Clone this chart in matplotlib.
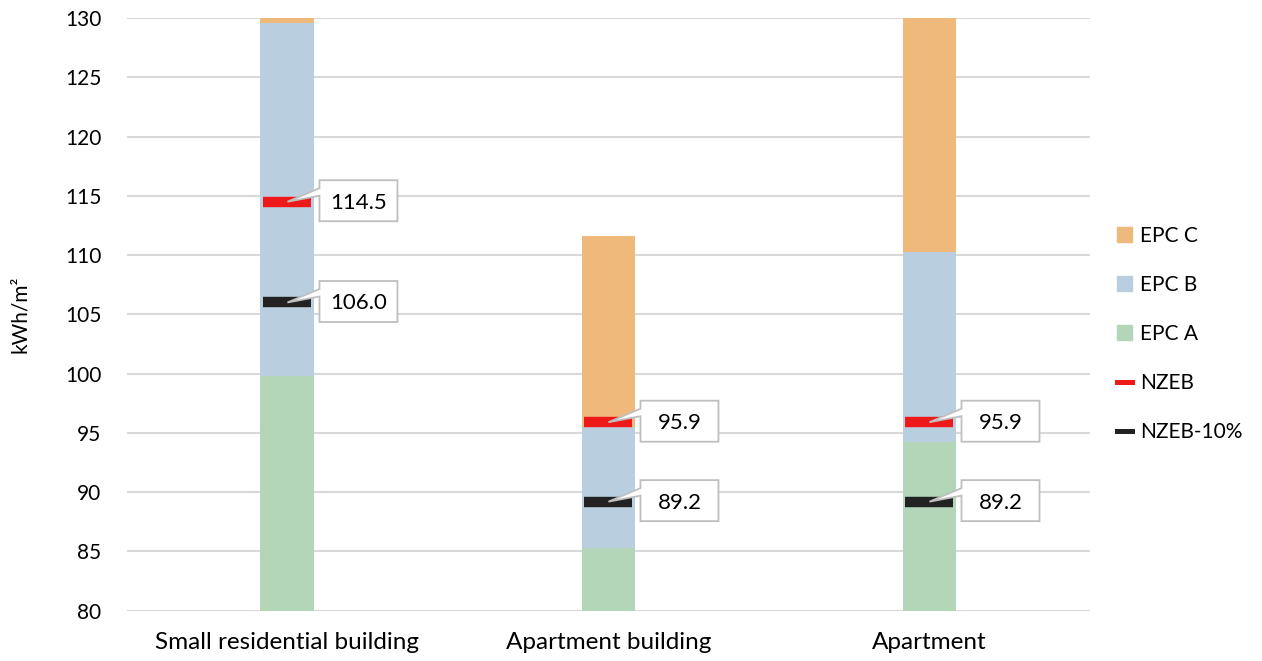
import matplotlib.pyplot as plt
import matplotlib.transforms as mtransforms
import numpy as np
from matplotlib.lines import Line2D
from matplotlib.patches import Patch, Polygon

plt.rcParams["font.family"] = ["Lato", "DejaVu Sans"]

# building types on the x axis
categories = ["Small residential building", "Apartment building", "Apartment"]

# upper limit of each energy class (kWh/m2); bars start at zero
epc_a_top = [99.8, 85.3, 94.2]
epc_b_top = [129.6, 95.5, 110.3]
epc_c_top = [140.0, 111.6, 140.0]

# NZEB requirement and NZEB minus 10 %
nzeb = [114.5, 95.9, 95.9]
nzeb_10 = [106.0, 89.2, 89.2]

yticks = list(range(80, 131, 5))

c_orange = "#F0B97C"
c_blue = "#B9CFDF"
c_green = "#B3D5B8"
c_red = "#EE1A1A"
c_black = "#222222"
c_grid = "#D9D9D9"
c_box = "#BFBFBF"

DPI = 100
fig = plt.figure(figsize=(12.62, 6.61), dpi=DPI)
ax = fig.add_axes([0.1006, 0.0761, 0.7631, 0.8967])

x = np.arange(len(categories))
w = 0.168
a = np.array(epc_a_top)
b = np.array(epc_b_top)
c = np.array(epc_c_top)

ax.bar(x, a, w, color=c_green, zorder=2)
ax.bar(x, b - a, w, bottom=a, color=c_blue, zorder=2)
ax.bar(x, c - b, w, bottom=b, color=c_orange, zorder=2)

ax.plot(x, nzeb, ls="none", marker="_", ms=35, mew=7.5, color=c_red, zorder=3)
ax.plot(x, nzeb_10, ls="none", marker="_", ms=35, mew=7.5, color=c_black, zorder=3)

# callout outline in pixels relative to the marker centre (y up):
# box on the right, wedge leaving the upper left edge towards the marker
L, R, T, B = 32, 110, 21.5, -19.5
callout = [(L, T), (R, T), (R, B), (L, B), (L, 6), (0, 0), (L, 13.5)]
px = mtransforms.Affine2D().scale(1 / DPI) + fig.dpi_scale_trans

for xi, vals in zip(x, zip(nzeb, nzeb_10)):
    for v in vals:
        tr = px + mtransforms.ScaledTranslation(xi, v, ax.transData)
        ax.add_patch(Polygon(callout, closed=True, fc="white", ec=c_box, lw=1.3,
                             transform=tr, zorder=4, clip_on=False))
        ax.annotate(f"{v:.1f}", xy=(xi, v), xytext=((L + R) / 2 * 72 / DPI, (T + B) / 2 * 72 / DPI),
                    textcoords="offset points", ha="center", va="center_baseline",
                    fontsize=16, zorder=5)

ax.set_xlim(-0.5, len(categories) - 0.5)
ax.set_ylim(80, 130)
ax.set_yticks(yticks)
ax.set_xticks(x)
ax.set_xticklabels(categories, fontsize=17.5)
ax.tick_params(axis="y", labelsize=15, length=0, pad=18.5)
ax.tick_params(axis="x", length=0, pad=15)
ax.yaxis.grid(True, color=c_grid, lw=1.5, zorder=0)
ax.set_axisbelow(True)
for s in ax.spines.values():
    s.set_visible(False)
ax.set_ylabel("kWh/m²", fontsize=15)
ax.yaxis.set_label_coords(-0.101, 0.5)

handles = [
    Patch(color=c_orange, label="EPC C"),
    Patch(color=c_blue, label="EPC B"),
    Patch(color=c_green, label="EPC A"),
    Line2D([], [], color=c_red, lw=3.6, label="NZEB"),
    Line2D([], [], color=c_black, lw=3.6, label="NZEB-10%"),
]
fig.legend(handles=handles, loc="center left", bbox_to_anchor=(0.885, 0.4947),
           frameon=False, fontsize=15, handlelength=0.75, handleheight=0.7,
           handletextpad=0.35, labelspacing=1.40, borderpad=0, borderaxespad=0)

fig.savefig("out.png", dpi=DPI)
